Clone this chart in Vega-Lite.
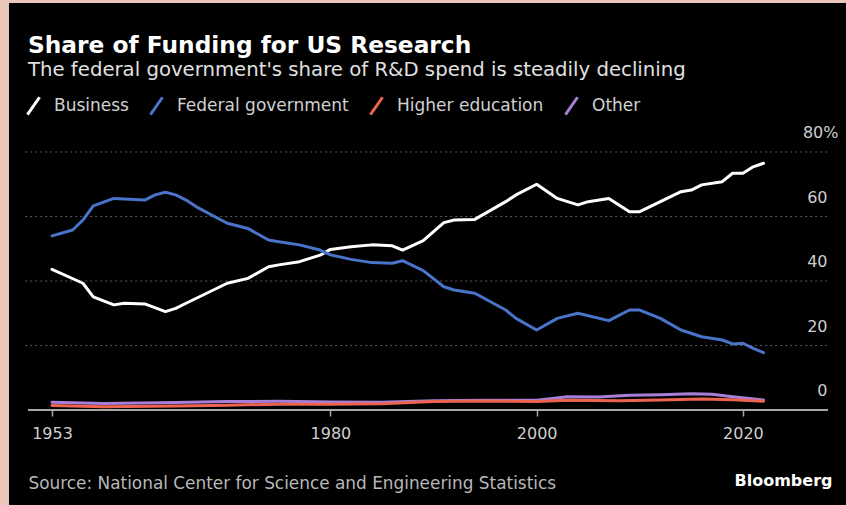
{
  "$schema": "https://vega.github.io/schema/vega-lite/v6.json",
  "width": 837,
  "height": 502,
  "autosize": {"type": "none"},
  "padding": {"left": 9, "top": 3, "right": 0, "bottom": 0},
  "background": "#e9c6b8",
  "config": {"view": {"fill": "#000000", "stroke": null}, "font": "DejaVu Sans"},
  "title": {
    "text": "Share of Funding for US Research",
    "subtitle": "The federal government's share of R&D spend is steadily declining",
    "anchor": "start",
    "frame": "group",
    "orient": "top",
    "offset": -78,
    "dx": 19,
    "fontSize": 23.3,
    "fontWeight": "bold",
    "color": "#ffffff",
    "subtitleFontSize": 19.7,
    "subtitleColor": "#e0e0e0",
    "subtitlePadding": 2
  },
  "datasets": {
    "series": [
      {"year": 1953, "sector": "Business", "share": 43.6},
      {"year": 1956, "sector": "Business", "share": 39.3},
      {"year": 1957, "sector": "Business", "share": 35.1},
      {"year": 1959, "sector": "Business", "share": 32.6},
      {"year": 1960, "sector": "Business", "share": 33.1},
      {"year": 1962, "sector": "Business", "share": 32.9},
      {"year": 1964, "sector": "Business", "share": 30.5},
      {"year": 1965, "sector": "Business", "share": 31.5},
      {"year": 1966, "sector": "Business", "share": 33.1},
      {"year": 1968, "sector": "Business", "share": 36.2},
      {"year": 1970, "sector": "Business", "share": 39.3},
      {"year": 1972, "sector": "Business", "share": 40.8},
      {"year": 1974, "sector": "Business", "share": 44.4},
      {"year": 1975, "sector": "Business", "share": 45.0},
      {"year": 1977, "sector": "Business", "share": 46.0},
      {"year": 1979, "sector": "Business", "share": 48.0},
      {"year": 1980, "sector": "Business", "share": 49.8},
      {"year": 1982, "sector": "Business", "share": 50.6},
      {"year": 1984, "sector": "Business", "share": 51.2},
      {"year": 1986, "sector": "Business", "share": 50.9},
      {"year": 1987, "sector": "Business", "share": 49.6},
      {"year": 1989, "sector": "Business", "share": 52.5},
      {"year": 1991, "sector": "Business", "share": 58.1},
      {"year": 1992, "sector": "Business", "share": 58.9},
      {"year": 1994, "sector": "Business", "share": 59.1},
      {"year": 1997, "sector": "Business", "share": 64.6},
      {"year": 1998, "sector": "Business", "share": 66.7},
      {"year": 2000, "sector": "Business", "share": 70.0},
      {"year": 2002, "sector": "Business", "share": 65.6},
      {"year": 2004, "sector": "Business", "share": 63.6},
      {"year": 2005, "sector": "Business", "share": 64.6},
      {"year": 2007, "sector": "Business", "share": 65.6},
      {"year": 2009, "sector": "Business", "share": 61.5},
      {"year": 2010, "sector": "Business", "share": 61.5},
      {"year": 2012, "sector": "Business", "share": 64.6},
      {"year": 2014, "sector": "Business", "share": 67.7},
      {"year": 2015, "sector": "Business", "share": 68.2},
      {"year": 2016, "sector": "Business", "share": 69.8},
      {"year": 2018, "sector": "Business", "share": 70.8},
      {"year": 2019, "sector": "Business", "share": 73.4},
      {"year": 2020, "sector": "Business", "share": 73.4},
      {"year": 2021, "sector": "Business", "share": 75.4},
      {"year": 2022, "sector": "Business", "share": 76.5},
      {"year": 1953, "sector": "Federal government", "share": 54.0},
      {"year": 1955, "sector": "Federal government", "share": 55.8},
      {"year": 1956, "sector": "Federal government", "share": 58.9},
      {"year": 1957, "sector": "Federal government", "share": 63.3},
      {"year": 1959, "sector": "Federal government", "share": 65.6},
      {"year": 1960, "sector": "Federal government", "share": 65.4},
      {"year": 1962, "sector": "Federal government", "share": 65.1},
      {"year": 1963, "sector": "Federal government", "share": 66.7},
      {"year": 1964, "sector": "Federal government", "share": 67.5},
      {"year": 1965, "sector": "Federal government", "share": 66.7},
      {"year": 1966, "sector": "Federal government", "share": 65.1},
      {"year": 1967, "sector": "Federal government", "share": 63.0},
      {"year": 1970, "sector": "Federal government", "share": 57.9},
      {"year": 1972, "sector": "Federal government", "share": 56.3},
      {"year": 1974, "sector": "Federal government", "share": 52.7},
      {"year": 1975, "sector": "Federal government", "share": 52.2},
      {"year": 1977, "sector": "Federal government", "share": 51.2},
      {"year": 1979, "sector": "Federal government", "share": 49.6},
      {"year": 1980, "sector": "Federal government", "share": 48.1},
      {"year": 1982, "sector": "Federal government", "share": 46.7},
      {"year": 1984, "sector": "Federal government", "share": 45.7},
      {"year": 1986, "sector": "Federal government", "share": 45.5},
      {"year": 1987, "sector": "Federal government", "share": 46.3},
      {"year": 1989, "sector": "Federal government", "share": 43.2},
      {"year": 1991, "sector": "Federal government", "share": 38.2},
      {"year": 1992, "sector": "Federal government", "share": 37.2},
      {"year": 1994, "sector": "Federal government", "share": 36.2},
      {"year": 1997, "sector": "Federal government", "share": 31.0},
      {"year": 1998, "sector": "Federal government", "share": 28.4},
      {"year": 2000, "sector": "Federal government", "share": 24.8},
      {"year": 2002, "sector": "Federal government", "share": 28.4},
      {"year": 2004, "sector": "Federal government", "share": 30.0},
      {"year": 2007, "sector": "Federal government", "share": 27.7},
      {"year": 2009, "sector": "Federal government", "share": 31.0},
      {"year": 2010, "sector": "Federal government", "share": 31.0},
      {"year": 2012, "sector": "Federal government", "share": 28.4},
      {"year": 2014, "sector": "Federal government", "share": 24.8},
      {"year": 2016, "sector": "Federal government", "share": 22.7},
      {"year": 2018, "sector": "Federal government", "share": 21.7},
      {"year": 2019, "sector": "Federal government", "share": 20.5},
      {"year": 2020, "sector": "Federal government", "share": 20.7},
      {"year": 2021, "sector": "Federal government", "share": 19.1},
      {"year": 2022, "sector": "Federal government", "share": 17.8},
      {"year": 1953, "sector": "Other", "share": 2.4},
      {"year": 1958, "sector": "Other", "share": 2.0},
      {"year": 1965, "sector": "Other", "share": 2.3},
      {"year": 1970, "sector": "Other", "share": 2.6},
      {"year": 1975, "sector": "Other", "share": 2.7},
      {"year": 1980, "sector": "Other", "share": 2.5},
      {"year": 1985, "sector": "Other", "share": 2.4},
      {"year": 1990, "sector": "Other", "share": 2.9},
      {"year": 1995, "sector": "Other", "share": 3.0},
      {"year": 2000, "sector": "Other", "share": 3.0},
      {"year": 2003, "sector": "Other", "share": 4.1},
      {"year": 2006, "sector": "Other", "share": 4.0},
      {"year": 2009, "sector": "Other", "share": 4.6},
      {"year": 2012, "sector": "Other", "share": 4.7},
      {"year": 2015, "sector": "Other", "share": 5.0},
      {"year": 2017, "sector": "Other", "share": 4.9},
      {"year": 2019, "sector": "Other", "share": 4.1},
      {"year": 2022, "sector": "Other", "share": 3.1},
      {"year": 1953, "sector": "Higher education", "share": 1.4},
      {"year": 1958, "sector": "Higher education", "share": 1.0},
      {"year": 1965, "sector": "Higher education", "share": 1.2},
      {"year": 1970, "sector": "Higher education", "share": 1.5},
      {"year": 1975, "sector": "Higher education", "share": 1.8},
      {"year": 1980, "sector": "Higher education", "share": 1.8},
      {"year": 1985, "sector": "Higher education", "share": 1.9},
      {"year": 1990, "sector": "Higher education", "share": 2.6},
      {"year": 1995, "sector": "Higher education", "share": 2.8},
      {"year": 2000, "sector": "Higher education", "share": 2.6},
      {"year": 2003, "sector": "Higher education", "share": 3.0},
      {"year": 2008, "sector": "Higher education", "share": 2.9},
      {"year": 2012, "sector": "Higher education", "share": 3.1},
      {"year": 2016, "sector": "Higher education", "share": 3.4},
      {"year": 2019, "sector": "Higher education", "share": 3.2},
      {"year": 2022, "sector": "Higher education", "share": 2.7}
    ],
    "grid": [{"level": 20}, {"level": 40}, {"level": 60}, {"level": 80}]
  },
  "layer": [
    {
      "data": {"name": "grid"},
      "mark": {"type": "rule", "color": "#5a5a5a", "strokeWidth": 1, "strokeDash": [2, 3]},
      "encoding": {
        "y": {"field": "level", "type": "quantitative", "scale": {"domain": [-29.46, 126.2], "nice": false, "zero": false}},
        "x": {"datum": 1950.4, "type": "quantitative"},
        "x2": {"datum": 2028.2}
      }
    },
    {
      "data": {"name": "series"},
      "mark": {"type": "rule", "color": "#a8a8a8", "strokeWidth": 1.5},
      "encoding": {
        "y": {"datum": 0, "type": "quantitative"},
        "x": {"datum": 1950.7, "type": "quantitative"},
        "x2": {"datum": 2028.2}
      }
    },
    {
      "data": {"name": "series"},
      "mark": {"type": "line", "strokeWidth": 3, "strokeJoin": "round", "strokeCap": "round"},
      "encoding": {
        "x": {
          "field": "year",
          "type": "quantitative",
          "scale": {"domain": [1948.83, 2030.0], "nice": false, "zero": false},
          "axis": {
            "orient": "bottom",
            "offset": -95,
            "values": [1953, 1980, 2000, 2020],
            "format": "d",
            "domain": false,
            "grid": false,
            "ticks": true,
            "tickSize": 6,
            "tickColor": "#a8a8a8",
            "tickWidth": 1.5,
            "labelColor": "#cfcfcf",
            "labelFontSize": 16,
            "labelPadding": 9,
            "title": "Source: National Center for Science and Engineering Statistics",
            "titleAnchor": "start",
            "titleAlign": "left",
            "titleBaseline": "alphabetic",
            "titleX": 19,
            "titleY": 78,
            "titleFontSize": 16.9,
            "titleFontWeight": "normal",
            "titleColor": "#b8b8b8"
          }
        },
        "y": {
          "field": "share",
          "type": "quantitative",
          "scale": {"domain": [-29.46, 126.2], "nice": false, "zero": false},
          "axis": {
            "orient": "right",
            "offset": -19,
            "values": [0, 20, 40, 60, 80],
            "domain": false,
            "ticks": false,
            "grid": false,
            "labelAlign": "right",
            "labelPadding": {"condition": {"test": "datum.value == 80", "value": 11}, "value": 0},
            "labelOffset": -19,
            "labelExpr": "datum.value == 80 ? '80%' : datum.label",
            "labelColor": "#cfcfcf",
            "labelFontSize": 16,
            "title": "Bloomberg",
            "titleAngle": 0,
            "titleAlign": "right",
            "titleBaseline": "alphabetic",
            "titleX": 5,
            "titleY": 482,
            "titleFontSize": 16,
            "titleFontWeight": "bold",
            "titleColor": "#ffffff"
          }
        },
        "color": {
          "field": "sector",
          "type": "nominal",
          "scale": {
            "domain": ["Business", "Federal government", "Higher education", "Other"],
            "range": ["#ffffff", "#4a74c9", "#ec6450", "#a87fd8"]
          },
          "legend": {
            "orient": "none",
            "legendX": 14,
            "legendY": 92,
            "direction": "horizontal",
            "title": null,
            "symbolType": "M-0.7,1L0.7,-1",
            "symbolSize": 300,
            "symbolStrokeWidth": 3,
            "labelFontSize": 17,
            "labelLimit": 400,
            "labelColor": "#d0d0d0",
            "labelOffset": 10,
            "columnPadding": 15
          }
        }
      }
    }
  ]
}
